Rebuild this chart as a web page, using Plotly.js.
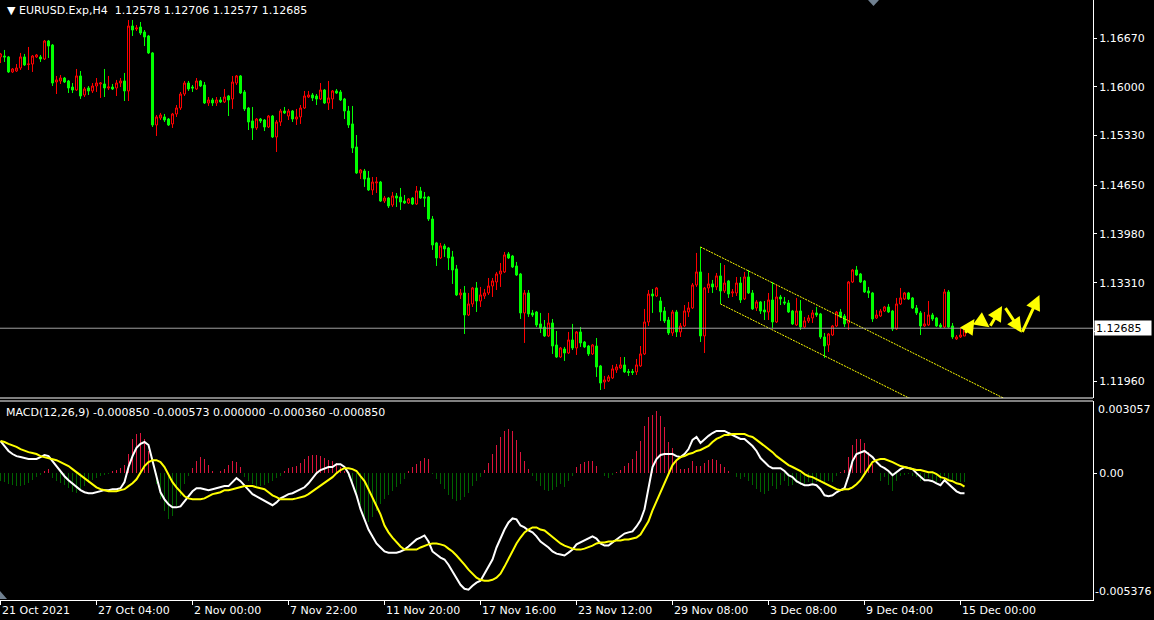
<!DOCTYPE html>
<html><head><meta charset="utf-8">
<script src="https://cdn.plot.ly/plotly-3.0.1.min.js"></script>
<style>html,body{margin:0;padding:0;background:#000;}#chart{width:1154px;height:620px;}</style>
</head><body><div id="chart"></div>
<script>
// ---------------- DATA ----------------
const symbolName = "EURUSD.Exp,H4";
const macdName = "MACD(12,26,9)";

const open = [
1.16410,1.16423,1.16410,1.16204,1.16217,1.16258,1.16410,1.16306,1.16313,1.16410,
1.16410,1.16382,1.16629,1.16574,1.16066,1.16080,1.16121,1.16080,1.15997,1.15956,
1.16149,1.15888,1.15984,1.15943,1.16011,1.16039,1.16039,1.15984,1.15997,1.15984,
1.16052,1.16080,1.15943,1.16835,1.16794,1.16821,1.16753,1.16698,1.16465,1.15476,
1.15572,1.15586,1.15558,1.15490,1.15627,1.15709,1.15901,1.16052,1.15997,1.15970,
1.16080,1.16025,1.15778,1.15819,1.15778,1.15819,1.15792,1.15874,1.15833,1.16052,
1.16149,1.15929,1.15709,1.15531,1.15435,1.15558,1.15544,1.15448,1.15599,1.15311,
1.15517,1.15668,1.15599,1.15668,1.15558,1.15586,1.15709,1.15860,1.15888,1.15874,
1.15833,1.15956,1.15778,1.15833,1.15943,1.15929,1.15833,1.15668,1.15490,1.15174,
1.14817,1.14844,1.14748,1.14583,1.14680,1.14693,1.14432,1.14473,1.14377,1.14501,
1.14487,1.14432,1.14405,1.14473,1.14391,1.14570,1.14487,1.14487,1.14185,1.13856,
1.13650,1.13815,1.13787,1.13664,1.13499,1.13142,1.13169,1.12867,1.13018,1.13238,
1.13059,1.13128,1.13169,1.13265,1.13320,1.13430,1.13458,1.13705,1.13677,1.13540,
1.13430,1.12895,1.13169,1.12895,1.12908,1.12744,1.12702,1.12579,1.12757,1.12455,
1.12290,1.12400,1.12345,1.12524,1.12414,1.12634,1.12496,1.12441,1.12332,1.12441,
1.12167,1.11947,1.11961,1.12002,1.12112,1.12139,1.12181,1.12091,1.12091,1.12085,
1.12167,1.12332,1.12771,1.13155,1.13128,1.13059,1.12922,1.12798,1.12620,1.12908,
1.12634,1.12716,1.12908,1.12963,1.13279,1.13458,1.12579,1.13238,1.13293,1.13252,
1.13403,1.13197,1.13334,1.13169,1.13169,1.13306,1.13087,1.13389,1.13169,1.12963,
1.13046,1.12936,1.12908,1.13073,1.12771,1.13114,1.13046,1.13032,1.12922,1.12730,
1.12922,1.12702,1.12785,1.12826,1.12895,1.12881,1.12565,1.12455,1.12592,1.12716,
1.12908,1.12853,1.12757,1.13320,1.13485,1.13430,1.13334,1.13197,1.13169,1.12826,
1.12853,1.12922,1.12977,1.12922,1.12675,1.13018,1.13087,1.13169,1.13101,1.12963,
1.12895,1.12716,1.12730,1.12867,1.12826,1.12730,1.12702,1.13183,1.12716,1.12538,
1.12565,1.12578];

const high = [
1.16465,1.16506,1.16423,1.16258,1.16313,1.16465,1.16451,1.16547,1.16437,1.16451,
1.16437,1.16643,1.16643,1.16588,1.16149,1.16162,1.16135,1.16094,1.16052,1.16245,
1.16217,1.15997,1.16011,1.16052,1.16121,1.16066,1.16245,1.16149,1.16039,1.16094,
1.16121,1.16190,1.16917,1.16917,1.16849,1.16890,1.16780,1.16712,1.16478,1.15613,
1.15641,1.15627,1.15572,1.15641,1.15750,1.15929,1.16080,1.16080,1.16025,1.16121,
1.16094,1.16066,1.15860,1.15847,1.15860,1.15860,1.15970,1.15888,1.16149,1.16162,
1.16162,1.15956,1.15723,1.15723,1.15572,1.15572,1.15558,1.15613,1.15613,1.15544,
1.15696,1.15723,1.15696,1.15682,1.15696,1.15750,1.15943,1.15943,1.15915,1.15901,
1.16052,1.15970,1.16080,1.15956,1.15970,1.15956,1.15847,1.15737,1.15737,1.15338,
1.14872,1.14872,1.14844,1.14762,1.14762,1.14707,1.14501,1.14487,1.14556,1.14542,
1.14611,1.14515,1.14473,1.14487,1.14638,1.14625,1.14556,1.14501,1.14226,1.13870,
1.13856,1.13843,1.13801,1.13746,1.13554,1.13224,1.13265,1.13169,1.13252,1.13320,
1.13252,1.13224,1.13375,1.13375,1.13458,1.13581,1.13732,1.13732,1.13691,1.13595,
1.13444,1.13210,1.13210,1.12936,1.12922,1.12895,1.12798,1.12895,1.12812,1.12647,
1.12428,1.12428,1.12634,1.12744,1.12647,1.12702,1.12510,1.12455,1.12469,1.12551,
1.12181,1.12030,1.12043,1.12181,1.12194,1.12290,1.12290,1.12126,1.12126,1.12263,
1.12441,1.12950,1.13210,1.13224,1.13252,1.13114,1.12977,1.12840,1.12936,1.12936,
1.12757,1.13004,1.13046,1.13306,1.13719,1.13801,1.13252,1.13444,1.13348,1.13444,
1.13581,1.13554,1.13348,1.13224,1.13389,1.13389,1.13458,1.13485,1.13210,1.13073,
1.13059,1.13059,1.13169,1.13320,1.13279,1.13142,1.13114,1.13073,1.12936,1.13101,
1.13073,1.12840,1.12867,1.12936,1.12977,1.12895,1.12620,1.12620,1.12730,1.12922,
1.12950,1.12881,1.13334,1.13499,1.13540,1.13444,1.13348,1.13252,1.13183,1.12936,
1.12950,1.12991,1.13018,1.12936,1.13101,1.13238,1.13183,1.13183,1.13114,1.13004,
1.12922,1.12908,1.13059,1.12895,1.12840,1.12757,1.13224,1.13210,1.12757,1.12592,
1.12689,1.12706];

const low = [
1.16327,1.16341,1.16190,1.16190,1.16204,1.16231,1.16286,1.16231,1.16204,1.16396,
1.16341,1.16368,1.16396,1.16011,1.15901,1.16039,1.16052,1.15915,1.15915,1.15943,
1.15833,1.15860,1.15888,1.15915,1.15929,1.15847,1.15860,1.15956,1.15956,1.15874,
1.15997,1.15805,1.15805,1.16698,1.16766,1.16712,1.16560,1.16451,1.15448,1.15325,
1.15544,1.15517,1.15462,1.15435,1.15586,1.15682,1.15874,1.15943,1.15929,1.15956,
1.15997,1.15764,1.15737,1.15737,1.15737,1.15778,1.15778,1.15599,1.15696,1.16025,
1.15901,1.15668,1.15407,1.15270,1.15407,1.15503,1.15393,1.15435,1.15297,1.15105,
1.15462,1.15627,1.15544,1.15517,1.15476,1.15490,1.15696,1.15847,1.15805,1.15750,
1.15819,1.15764,1.15682,1.15696,1.15901,1.15805,1.15558,1.15435,1.15091,1.14803,
1.14734,1.14625,1.14570,1.14515,1.14542,1.14419,1.14405,1.14336,1.14350,1.14350,
1.14309,1.14391,1.14391,1.14377,1.14377,1.14460,1.14350,1.14158,1.13760,1.13540,
1.13636,1.13664,1.13485,1.13293,1.13128,1.13087,1.12606,1.12853,1.12977,1.12908,
1.12977,1.13087,1.13142,1.13114,1.13210,1.13252,1.13444,1.13636,1.13512,1.13403,
1.12812,1.12483,1.12840,1.12840,1.12702,1.12620,1.12565,1.12565,1.12332,1.12277,
1.12277,1.12236,1.12332,1.12386,1.12318,1.12428,1.12414,1.12304,1.12318,1.12016,
1.11837,1.11851,1.11947,1.11988,1.12071,1.12126,1.12071,1.12030,1.12043,1.12043,
1.12153,1.12318,1.12716,1.12895,1.13114,1.12785,1.12757,1.12592,1.12579,1.12565,
1.12565,1.12702,1.12840,1.12950,1.13252,1.12496,1.12345,1.13169,1.13169,1.13210,
1.13018,1.13169,1.13101,1.13114,1.13128,1.13032,1.13073,1.13155,1.12936,1.12922,
1.12881,1.12798,1.12798,1.12689,1.12757,1.13004,1.13004,1.12895,1.12730,1.12716,
1.12661,1.12689,1.12757,1.12757,1.12840,1.12538,1.12277,1.12359,1.12579,1.12702,
1.12826,1.12702,1.12661,1.13306,1.13403,1.13306,1.13169,1.13101,1.12771,1.12812,
1.12840,1.12908,1.12895,1.12647,1.12661,1.13004,1.13073,1.13073,1.12950,1.12867,
1.12592,1.12702,1.12716,1.12785,1.12702,1.12689,1.12689,1.12689,1.12538,1.12524,
1.12551,1.12577];

const close = [
1.16451,1.16410,1.16204,1.16245,1.16258,1.16410,1.16300,1.16313,1.16423,1.16437,
1.16382,1.16629,1.16560,1.16052,1.16094,1.16121,1.16066,1.15984,1.15956,1.16149,
1.15874,1.15970,1.15943,1.16011,1.16052,1.16052,1.15984,1.15997,1.15970,1.16052,
1.16080,1.15943,1.16835,1.16780,1.16808,1.16739,1.16684,1.16465,1.15476,1.15586,
1.15613,1.15544,1.15476,1.15627,1.15709,1.15901,1.16052,1.15970,1.15984,1.16080,
1.16011,1.15778,1.15819,1.15778,1.15819,1.15792,1.15860,1.15819,1.16066,1.16149,
1.15915,1.15696,1.15517,1.15435,1.15558,1.15531,1.15448,1.15599,1.15311,1.15517,
1.15668,1.15641,1.15668,1.15558,1.15586,1.15709,1.15874,1.15888,1.15847,1.15833,
1.15956,1.15778,1.15847,1.15943,1.15915,1.15819,1.15668,1.15476,1.15160,1.14817,
1.14858,1.14734,1.14583,1.14693,1.14693,1.14432,1.14473,1.14364,1.14501,1.14473,
1.14419,1.14405,1.14460,1.14391,1.14570,1.14473,1.14473,1.14185,1.13828,1.13650,
1.13815,1.13774,1.13650,1.13485,1.13142,1.13169,1.12867,1.13018,1.13238,1.13059,
1.13142,1.13169,1.13265,1.13334,1.13430,1.13471,1.13691,1.13650,1.13526,1.13416,
1.12895,1.13169,1.12881,1.12867,1.12730,1.12689,1.12579,1.12757,1.12441,1.12290,
1.12414,1.12345,1.12524,1.12414,1.12634,1.12483,1.12428,1.12332,1.12455,1.12153,
1.11933,1.11975,1.12016,1.12126,1.12153,1.12181,1.12085,1.12078,1.12078,1.12181,
1.12332,1.12771,1.13155,1.13128,1.13238,1.12908,1.12785,1.12620,1.12908,1.12634,
1.12716,1.12922,1.12963,1.13279,1.13458,1.12579,1.13238,1.13293,1.13252,1.13403,
1.13197,1.13306,1.13155,1.13183,1.13306,1.13073,1.13389,1.13169,1.12950,1.13046,
1.12922,1.12908,1.13073,1.12771,1.13114,1.13087,1.13032,1.12908,1.12744,1.12922,
1.12702,1.12785,1.12826,1.12895,1.12867,1.12565,1.12441,1.12606,1.12716,1.12908,
1.12840,1.12744,1.13320,1.13485,1.13416,1.13320,1.13183,1.13169,1.12812,1.12867,
1.12922,1.12977,1.12908,1.12675,1.13018,1.13101,1.13169,1.13087,1.12963,1.12895,
1.12716,1.12744,1.12867,1.12812,1.12716,1.12702,1.13183,1.12702,1.12565,1.12565,
1.12592,1.12685];

const macdMain = [
0.00136,0.00115,0.00094,0.00081,0.00072,0.00068,0.00064,0.00060,0.00060,0.00060,
0.00068,0.00077,0.00072,0.00051,0.00026,0.00004,-0.00013,-0.00030,-0.00043,-0.00060,
-0.00072,-0.00081,-0.00085,-0.00085,-0.00081,-0.00077,-0.00072,-0.00072,-0.00068,-0.00068,
-0.00064,-0.00038,0.00026,0.00072,0.00107,0.00124,0.00132,0.00119,0.00051,-0.00017,
-0.00081,-0.00111,-0.00132,-0.00145,-0.00145,-0.00141,-0.00119,-0.00094,-0.00077,-0.00064,
-0.00064,-0.00068,-0.00072,-0.00068,-0.00064,-0.00060,-0.00055,-0.00055,-0.00038,-0.00021,
-0.00034,-0.00051,-0.00072,-0.00089,-0.00098,-0.00107,-0.00115,-0.00124,-0.00136,-0.00124,
-0.00107,-0.00098,-0.00089,-0.00085,-0.00077,-0.00068,-0.00060,-0.00043,-0.00021,0.00000,
0.00013,0.00021,0.00026,0.00026,0.00038,0.00038,0.00026,0.00000,-0.00043,-0.00094,
-0.00153,-0.00196,-0.00239,-0.00268,-0.00298,-0.00315,-0.00332,-0.00337,-0.00337,-0.00337,
-0.00332,-0.00324,-0.00311,-0.00298,-0.00281,-0.00273,-0.00264,-0.00290,-0.00332,-0.00345,
-0.00358,-0.00366,-0.00388,-0.00417,-0.00443,-0.00473,-0.00490,-0.00494,-0.00477,-0.00464,
-0.00456,-0.00426,-0.00392,-0.00366,-0.00315,-0.00273,-0.00239,-0.00209,-0.00192,-0.00196,
-0.00222,-0.00230,-0.00243,-0.00251,-0.00268,-0.00290,-0.00302,-0.00315,-0.00332,-0.00341,
-0.00345,-0.00349,-0.00337,-0.00324,-0.00302,-0.00294,-0.00285,-0.00277,-0.00268,-0.00277,
-0.00298,-0.00307,-0.00307,-0.00294,-0.00281,-0.00268,-0.00256,-0.00251,-0.00247,-0.00226,
-0.00200,-0.00153,-0.00068,0.00026,0.00060,0.00077,0.00081,0.00081,0.00081,0.00072,
0.00068,0.00081,0.00102,0.00141,0.00153,0.00128,0.00145,0.00158,0.00170,0.00179,
0.00179,0.00179,0.00170,0.00162,0.00153,0.00145,0.00145,0.00132,0.00115,0.00094,
0.00064,0.00047,0.00030,0.00021,0.00021,0.00021,0.00009,-0.00009,-0.00017,-0.00034,
-0.00043,-0.00051,-0.00051,-0.00047,-0.00051,-0.00068,-0.00094,-0.00098,-0.00094,-0.00081,
-0.00072,-0.00064,-0.00013,0.00051,0.00081,0.00089,0.00094,0.00081,0.00068,0.00047,
0.00030,0.00021,0.00009,-0.00009,0.00004,0.00017,0.00026,0.00021,0.00017,0.00000,
-0.00017,-0.00030,-0.00030,-0.00034,-0.00043,-0.00051,-0.00030,-0.00047,-0.00064,-0.00077,
-0.00085,-0.000850];

const macdSignal = [
0.00136,0.00132,0.00124,0.00119,0.00111,0.00102,0.00094,0.00089,0.00085,0.00081,
0.00072,0.00068,0.00064,0.00060,0.00055,0.00047,0.00038,0.00030,0.00017,0.00004,
-0.00009,-0.00021,-0.00034,-0.00047,-0.00060,-0.00068,-0.00072,-0.00077,-0.00077,-0.00077,
-0.00072,-0.00068,-0.00055,-0.00043,-0.00026,0.00004,0.00030,0.00047,0.00055,0.00055,
0.00047,0.00026,-0.00004,-0.00038,-0.00060,-0.00081,-0.00098,-0.00107,-0.00111,-0.00111,
-0.00111,-0.00107,-0.00098,-0.00089,-0.00085,-0.00081,-0.00072,-0.00072,-0.00068,-0.00064,
-0.00060,-0.00055,-0.00055,-0.00055,-0.00060,-0.00064,-0.00068,-0.00081,-0.00094,-0.00102,
-0.00111,-0.00111,-0.00111,-0.00111,-0.00107,-0.00102,-0.00098,-0.00089,-0.00077,-0.00068,
-0.00055,-0.00043,-0.00030,-0.00017,0.00000,0.00013,0.00021,0.00021,0.00017,0.00009,
-0.00013,-0.00034,-0.00068,-0.00102,-0.00136,-0.00175,-0.00222,-0.00251,-0.00273,-0.00294,
-0.00311,-0.00324,-0.00324,-0.00324,-0.00324,-0.00315,-0.00307,-0.00302,-0.00298,-0.00298,
-0.00302,-0.00307,-0.00320,-0.00332,-0.00349,-0.00371,-0.00388,-0.00409,-0.00426,-0.00443,
-0.00452,-0.00456,-0.00456,-0.00452,-0.00443,-0.00426,-0.00396,-0.00362,-0.00328,-0.00298,
-0.00273,-0.00251,-0.00239,-0.00230,-0.00230,-0.00239,-0.00243,-0.00256,-0.00268,-0.00285,
-0.00298,-0.00307,-0.00315,-0.00320,-0.00324,-0.00324,-0.00320,-0.00315,-0.00307,-0.00298,
-0.00294,-0.00294,-0.00290,-0.00290,-0.00285,-0.00285,-0.00281,-0.00281,-0.00277,-0.00273,
-0.00260,-0.00234,-0.00204,-0.00158,-0.00119,-0.00077,-0.00038,0.00000,0.00034,0.00055,
0.00068,0.00072,0.00081,0.00085,0.00094,0.00098,0.00107,0.00115,0.00132,0.00145,
0.00153,0.00162,0.00162,0.00166,0.00166,0.00166,0.00166,0.00158,0.00153,0.00141,
0.00128,0.00115,0.00102,0.00089,0.00072,0.00060,0.00047,0.00034,0.00026,0.00017,
0.00009,-0.00004,-0.00013,-0.00017,-0.00026,-0.00034,-0.00043,-0.00051,-0.00060,-0.00068,
-0.00072,-0.00068,-0.00068,-0.00060,-0.00047,-0.00030,-0.00004,0.00021,0.00047,0.00055,
0.00060,0.00060,0.00055,0.00047,0.00038,0.00030,0.00026,0.00021,0.00017,0.00013,
0.00013,0.00009,0.00004,0.00004,-0.00004,-0.00017,-0.00021,-0.00030,-0.00034,-0.00043,
-0.00047,-0.000573];

const macdHist = [
-0.00034,-0.00038,-0.00047,-0.00051,-0.00055,-0.00055,-0.00051,-0.00043,-0.00030,-0.00017,
-0.00009,0.00009,0.00017,-0.00021,-0.00034,-0.00043,-0.00051,-0.00064,-0.00081,-0.00085,
-0.00072,-0.00055,-0.00043,-0.00030,-0.00021,-0.00013,-0.00009,-0.00004,0.00009,0.00013,
0.00021,0.00034,0.00081,0.00145,0.00166,0.00170,0.00145,0.00094,0.00000,-0.00047,
-0.00111,-0.00162,-0.00196,-0.00183,-0.00141,-0.00098,-0.00047,-0.00013,0.00021,0.00051,
0.00068,0.00060,0.00034,0.00009,0.00000,0.00009,0.00017,0.00034,0.00051,0.00047,
0.00026,-0.00017,-0.00034,-0.00047,-0.00055,-0.00055,-0.00051,-0.00043,-0.00034,-0.00021,
-0.00013,0.00009,0.00021,0.00026,0.00030,0.00043,0.00060,0.00072,0.00077,0.00077,
0.00072,0.00064,0.00055,0.00051,0.00043,0.00026,0.00009,-0.00017,-0.00047,-0.00089,
-0.00136,-0.00187,-0.00209,-0.00187,-0.00162,-0.00132,-0.00111,-0.00094,-0.00077,-0.00060,
-0.00047,-0.00026,0.00009,0.00026,0.00038,0.00051,0.00064,0.00060,-0.00004,-0.00026,
-0.00047,-0.00068,-0.00094,-0.00111,-0.00119,-0.00115,-0.00102,-0.00085,-0.00055,-0.00034,
-0.00017,0.00013,0.00043,0.00081,0.00119,0.00153,0.00179,0.00187,0.00179,0.00141,
0.00089,0.00051,0.00017,-0.00013,-0.00034,-0.00055,-0.00072,-0.00077,-0.00072,-0.00060,
-0.00047,-0.00060,-0.00034,-0.00013,0.00026,0.00038,0.00047,0.00051,0.00051,0.00030,
0.00000,-0.00013,-0.00021,-0.00009,0.00004,0.00013,0.00030,0.00043,0.00060,0.00094,
0.00136,0.00200,0.00239,0.00247,0.00264,0.00243,0.00196,0.00132,0.00107,0.00051,
0.00017,0.00017,0.00021,0.00051,0.00030,0.00030,0.00043,0.00055,0.00060,0.00055,
0.00038,0.00026,0.00009,0.00000,-0.00017,-0.00026,-0.00017,-0.00034,-0.00051,-0.00068,
-0.00081,-0.00089,-0.00077,-0.00055,-0.00068,-0.00051,-0.00034,-0.00055,-0.00051,-0.00043,
-0.00051,-0.00047,-0.00038,-0.00051,-0.00038,-0.00034,-0.00043,-0.00034,-0.00038,-0.00013,
0.00004,0.00013,0.00068,0.00119,0.00145,0.00145,0.00128,0.00089,0.00038,0.00000,
-0.00034,-0.00017,-0.00051,-0.00077,-0.00034,-0.00013,-0.00009,-0.00004,-0.00013,-0.00017,
-0.00034,-0.00026,-0.00021,-0.00034,-0.00038,-0.00034,-0.00013,-0.00026,-0.00038,-0.00034,
-0.00038,-0.00036];

// time-axis labels (every 24 bars)
const dateTickBars = [0,24,48,72,96,120,144,168,192,216,240];
const dateTickText = ["21 Oct 2021","27 Oct 04:00","2 Nov 00:00","7 Nov 22:00","11 Nov 20:00",
  "17 Nov 16:00","23 Nov 12:00","29 Nov 08:00","3 Dec 08:00","9 Dec 04:00","15 Dec 00:00"];

// price scale
const priceTicks = [1.16670,1.16000,1.15330,1.14650,1.13980,1.13310,1.12640,1.11960];
const priceRange = [1.11727, 1.17192];
const macdRange = [-0.005376, 0.003057];

// drawn objects: descending channel and forecast arrows (bar index, price)
const channelUpperBars = [175, 255];
const channelUpperPrices = [1.13801, 1.11609];
const channelLowerBars = [180, 232];
const channelLowerPrices = [1.13018, 1.11593];
const arrowTailBar   = [241.0, 244.2, 247.25, 251.0, 255.3];
const arrowTailPrice = [1.12602, 1.12822, 1.12698, 1.12981, 1.12616];
const arrowHeadBar   = [243.5, 247.25, 250.4, 255.3, 259.75];
const arrowHeadPrice = [1.12812, 1.12698, 1.12991, 1.12624, 1.13142];

// ---------------- DRAW ----------------
const W = 1154, H = 620, mR = 61, mB = 20;
const PW = W - mR, PH = H - mB;
const px = v => v / PW;
const py = v => 1 - v / PH;
const FONT = 'DejaVu Sans, Verdana, sans-serif';
const bars = open.map((_, i) => i);
const last = open.length - 1;

const traces = [
  {type:'candlestick', x:bars, open, high, low, close, xaxis:'x', yaxis:'y',
   increasing:{line:{color:'#ff0000', width:1}, fillcolor:'#000000'},
   decreasing:{line:{color:'#00ff00', width:1}, fillcolor:'#00ff00'},
   whiskerwidth:0, hoverinfo:'skip'},
  {type:'scatter', mode:'lines', x:channelUpperBars, y:channelUpperPrices, xaxis:'x', yaxis:'y',
   line:{color:'#ffff00', width:1, dash:'2px,1px'}, hoverinfo:'skip'},
  {type:'scatter', mode:'lines', x:channelLowerBars, y:channelLowerPrices, xaxis:'x', yaxis:'y',
   line:{color:'#ffff00', width:1, dash:'2px,1px'}, hoverinfo:'skip'},
  {type:'bar', x:bars, y:macdHist, xaxis:'x', yaxis:'y2', width:0.25,
   marker:{color:macdHist.map(v => v >= 0 ? '#dc143c' : '#006400'), line:{width:0}}, hoverinfo:'skip'},
  {type:'scatter', mode:'lines', x:bars, y:macdMain, xaxis:'x', yaxis:'y2',
   line:{color:'#ffffff', width:2}, hoverinfo:'skip'},
  {type:'scatter', mode:'lines', x:bars, y:macdSignal, xaxis:'x', yaxis:'y2',
   line:{color:'#ffff00', width:2}, hoverinfo:'skip'}
];

const txt = (s, c) => ({family:FONT, size:11, color:c || '#ffffff'});
const annotations = [];
annotations.push({xref:'paper', yref:'paper', x:px(5), y:py(10), xanchor:'left', yanchor:'middle', showarrow:false,
  text:'\u25BC ' + symbolName + '\u00a0\u00a0' + [open[last], high[last], low[last], close[last]].map(v => v.toFixed(5)).join(' '),
  font:txt()});
annotations.push({xref:'paper', yref:'paper', x:px(4), y:py(412), xanchor:'left', yanchor:'middle', showarrow:false,
  text: macdName + ' ' + [macdMain[last], macdSignal[last], Math.max(macdHist[last],0), Math.min(macdHist[last],0), macdMain[last]].map(v => v.toFixed(6)).join(' '),
  font:txt()});
dateTickBars.forEach((b, k) => annotations.push({xref:'x', yref:'paper', x:b, y:py(610), xanchor:'left', yanchor:'middle',
  showarrow:false, text:dateTickText[k], font:txt(), xshift:-1}));
annotations.push({xref:'paper', yref:'paper', x:1, y:py(409), xanchor:'left', yanchor:'middle', xshift:3,
  showarrow:false, text:macdRange[1].toFixed(6), font:txt()});
annotations.push({xref:'paper', yref:'paper', x:1, y:py(591), xanchor:'left', yanchor:'middle', xshift:0,
  showarrow:false, text:macdRange[0].toFixed(6), font:txt()});
annotations.push({xref:'paper', yref:'y', x:1, y:close[last], xanchor:'left', yanchor:'middle', xshift:1,
  showarrow:false, text:close[last].toFixed(5), font:txt(null, '#000000'), bgcolor:'#ffffff',
  width:54, height:12, align:'left', borderpad:1});
for (let k = 0; k < arrowTailBar.length; k++) {
  annotations.push({xref:'x', yref:'y', axref:'x', ayref:'y', x:arrowHeadBar[k], y:arrowHeadPrice[k],
    ax:arrowTailBar[k], ay:arrowTailPrice[k], text:'', showarrow:true, arrowhead:2, arrowsize:1,
    arrowwidth:3, arrowcolor:'#ffff00', standoff:0, startstandoff:0});
}

const shapes = [
  {type:'line', xref:'paper', yref:'paper', x0:0, x1:1, y0:py(398), y1:py(398), line:{color:'#ffffff', width:1}},
  {type:'line', xref:'paper', yref:'paper', x0:0, x1:1, y0:py(401), y1:py(401), line:{color:'#ffffff', width:1}},
  {type:'line', xref:'paper', yref:'y', x0:0, x1:1, y0:close[last], y1:close[last], line:{color:'#a0a0a0', width:1}},
  {type:'path', xref:'paper', yref:'paper', path:`M ${px(868)} ${py(0)} L ${px(879)} ${py(0)} L ${px(873.5)} ${py(6)} Z`,
   fillcolor:'#708090', line:{width:0}},
  {type:'path', xref:'paper', yref:'paper', path:`M 0 ${py(591)} L 0 ${py(599)} L ${px(7)} ${py(599)} Z`,
   fillcolor:'#708090', line:{width:0}}
];

const axisFont = txt();
const layout = {
  width:W, height:H, margin:{l:0, r:mR, t:0, b:mB, pad:0},
  paper_bgcolor:'#000000', plot_bgcolor:'#000000', showlegend:false, hovermode:false,
  boxgap:0.5, boxgroupgap:0, bargap:0,
  xaxis:{anchor:'y2', domain:[0,1], range:[-0.125, 273.125], rangeslider:{visible:false},
    showgrid:false, zeroline:false, showline:true, linecolor:'#ffffff', linewidth:1,
    tickmode:'array', tickvals:dateTickBars, ticktext:dateTickBars.map(() => ''), showticklabels:false,
    ticks:'outside', ticklen:4, tickcolor:'#ffffff', tickwidth:1},
  yaxis:{domain:[1 - 398/PH, 1], range:priceRange, side:'right', anchor:'x',
    showgrid:false, zeroline:false, showline:true, linecolor:'#ffffff', linewidth:1, mirror:false,
    tickmode:'array', tickvals:priceTicks, ticktext:priceTicks.map(v => v.toFixed(5)),
    ticks:'outside', ticklen:3, tickcolor:'#ffffff', tickfont:axisFont},
  yaxis2:{domain:[0, 1 - 401/PH], range:macdRange, side:'right', anchor:'x',
    showgrid:false, zeroline:false, showline:true, linecolor:'#ffffff', linewidth:1,
    tickmode:'array', tickvals:[0], ticktext:['0.00'],
    ticks:'outside', ticklen:3, tickcolor:'#ffffff', tickfont:axisFont},
  annotations, shapes
};

Plotly.newPlot('chart', traces, layout, {displayModeBar:false, staticPlot:true});
</script>
</body></html>
